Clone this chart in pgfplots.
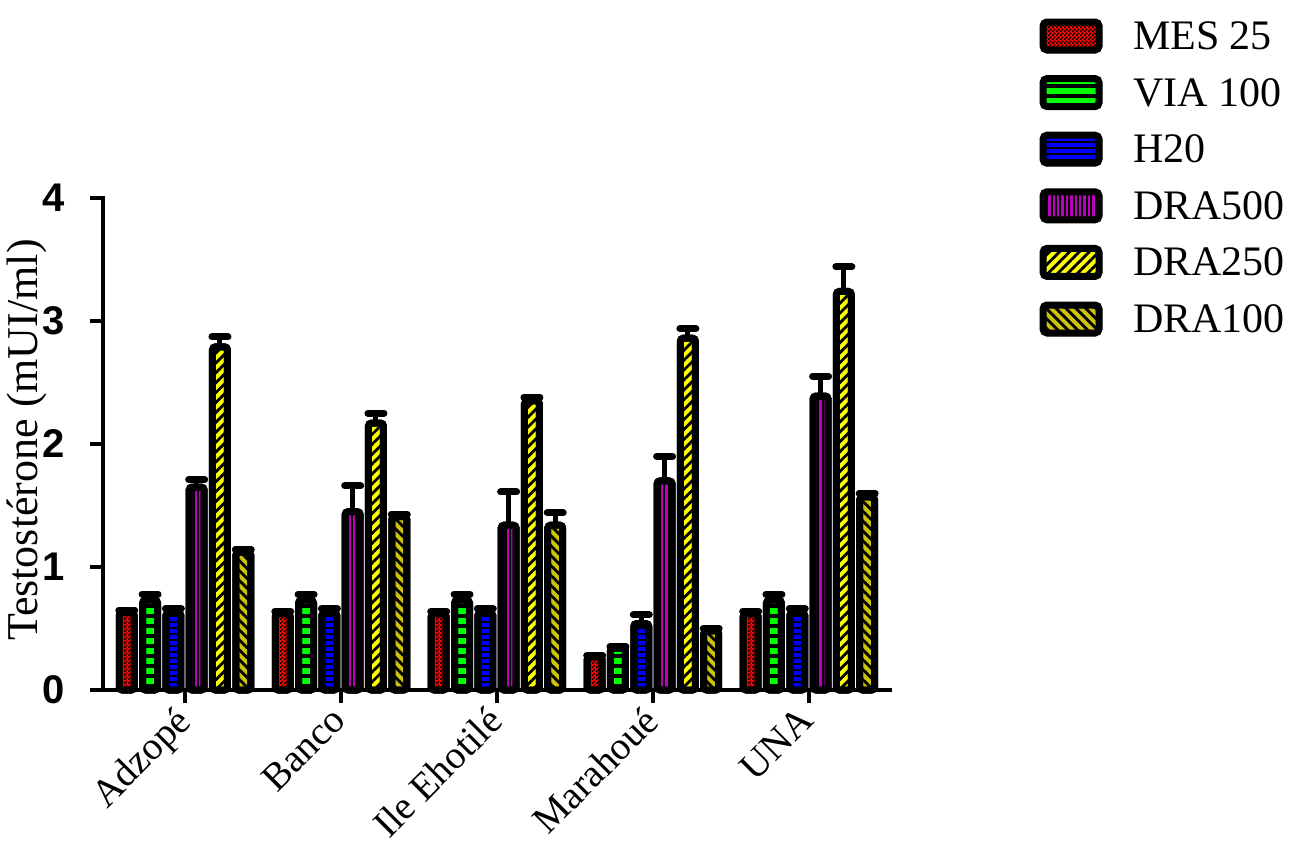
\documentclass[border=0pt]{standalone}
\usepackage{pgfplots}
\pgfplotsset{compat=1.18}
\usepackage{pgfplotstable}
\usepackage{fontspec}
\setmainfont{Liberation Serif}
\setsansfont{Liberation Sans}
\usetikzlibrary{patterns,patterns.meta}

\tikzdeclarepattern{
  name=mychecker,
  type=uncolored,
  bottom left={(0pt,0pt)},
  top right={(2pt,2pt)},
  tile size={(2pt,2pt)},
  code={
    \pgfpathrectangle{\pgfpointorigin}{\pgfqpoint{1pt}{1pt}}
    \pgfpathrectangle{\pgfqpoint{1pt}{1pt}}{\pgfqpoint{1pt}{1pt}}
    \pgfusepath{fill}
  }
}

\definecolor{cred}{RGB}{255,0,0}
\definecolor{cgreen}{RGB}{0,255,0}
\definecolor{cblue}{RGB}{0,0,255}
\definecolor{cmag}{RGB}{190,0,190}
\definecolor{cyel}{RGB}{255,255,0}
\definecolor{colive}{RGB}{205,195,10}

\pgfplotstableread{
x MES MESe VIA VIAe H20 H20e D500 D500e D250 D250e D100 D100e
0 0.63 0.02 0.73 0.05 0.63 0.03 1.65 0.06 2.79 0.08 1.12 0.02
1 0.62 0.02 0.73 0.05 0.63 0.03 1.45 0.21 2.17 0.08 1.41 0.02
2 0.62 0.02 0.73 0.05 0.63 0.03 1.34 0.27 2.35 0.03 1.34 0.10
3 0.27 0.01 0.34 0.01 0.54 0.07 1.70 0.20 2.86 0.08 0.48 0.02
4 0.62 0.02 0.73 0.05 0.63 0.03 2.39 0.16 3.24 0.20 1.57 0.03
}\data

\begin{document}
\begin{tikzpicture}
\useasboundingbox (0,0) rectangle (652.5pt,428pt);
\begin{axis}[
  at={(51.5pt,83pt)}, anchor=south west,
  scale only axis, width=393.5pt, height=246pt,
  xmin=-0.526, xmax=4.52, ymin=0, ymax=4,
  clip=false,
  axis x line*=bottom, axis y line*=left,
  axis line style={line width=2pt, line cap=rect},
  ytick={0,1,2,3,4},
  xtick={0,1,2,3,4},
  xticklabels={Adzopé,Banco,Ile Ehotilé,Marahoué,UNA},
  tick align=outside, major tick length=6.5pt,
  every tick/.style={black, line width=2pt},
  /pgf/number format/assume math mode=true,
  yticklabel style={font=\sffamily\bfseries\fontsize{20}{20}\selectfont, xshift=-9pt},
  xticklabel style={xshift=-5.7pt, yshift=4.2pt, rotate=45, anchor=north east, font=\fontsize{19.5}{23}\selectfont},
  ylabel={Testostérone (mUI/ml)},
  every axis y label/.style={at={(axis description cs:-0.0966,0.508)}, rotate=90, anchor=center},
  ylabel style={font=\fontsize{22}{26}\selectfont},
  ybar=4.15pt, bar width=7.5pt,
  error bars/y dir=plus, error bars/y explicit,
  error bars/error bar style={line width=2.5pt, black},
  error bars/error mark=|,
  error bars/error mark options={line width=3.5pt, mark size=4pt, black, line cap=round},
  every axis plot/.append style={draw=black, line width=3.5pt, rounded corners=1.5pt},
  every axis plot post/.append style={
    legend image code/.code={
      \pgfpathrectangle{\pgfqpoint{0pt}{-13.65pt}}{\pgfqpoint{31pt}{28.3pt}}
      \pgfusepath{use as bounding box}
      \draw[##1, line width=3pt, rounded corners=2pt] (1.5pt,-6.5pt) rectangle (29.5pt,7.5pt);
    }},
  legend cell align=left,
  legend style={at={(axis description cs:1.1906,1.3868)}, anchor=north west,
    draw=none, fill=none, inner sep=0pt, outer sep=0pt, row sep=0pt,
    font=\fontsize{21}{21}\selectfont, nodes={inner sep=0pt},
    /tikz/every odd column/.append style={column sep=15.5pt}},
]
\addplot[preaction={fill=cred}, pattern=mychecker, pattern color=black]
  table[x=x, y=MES, y error=MESe]{\data};
\addlegendentry{MES 25}
\addplot[preaction={fill=cgreen}, pattern={Lines[angle=0,distance=5pt,line width=2pt]}, pattern color=black]
  table[x=x, y=VIA, y error=VIAe]{\data};
\addlegendentry{VIA 100}
\addplot[preaction={fill=cblue}, pattern={Lines[angle=0,distance=3pt,line width=0.6pt]}, pattern color=black]
  table[x=x, y=H20, y error=H20e]{\data};
\addlegendentry{H20}
\addplot[preaction={fill=cmag}, pattern={Lines[angle=90,distance=2.2pt,line width=1pt]}, pattern color=black]
  table[x=x, y=D500, y error=D500e]{\data};
\addlegendentry{DRA500}
\addplot[preaction={fill=cyel}, pattern={Lines[angle=45,distance=3.5pt,line width=1.4pt]}, pattern color=black]
  table[x=x, y=D250, y error=D250e]{\data};
\addlegendentry{DRA250}
\addplot[preaction={fill=colive}, pattern={Lines[angle=-45,distance=3.5pt,line width=1.4pt]}, pattern color=black]
  table[x=x, y=D100, y error=D100e]{\data};
\addlegendentry{DRA100}
\end{axis}
\end{tikzpicture}
\end{document}
